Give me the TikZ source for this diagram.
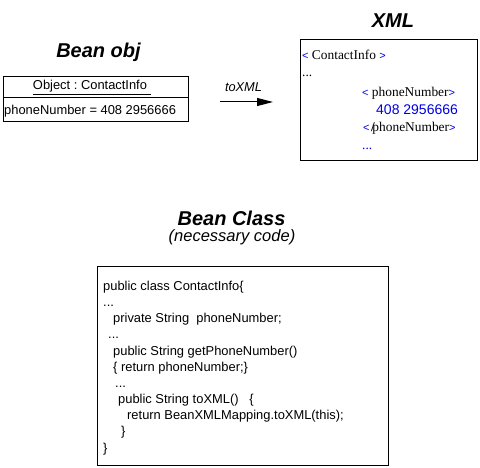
\documentclass[tikz,border=0pt]{standalone}
\usepackage{fontspec}
\setmainfont{Liberation Sans}
\newfontfamily\xmlfont{Liberation Serif}
\newfontfamily\tagfont{Liberation Sans}
\usetikzlibrary{positioning,arrows.meta}
\definecolor{tagblue}{RGB}{0,0,225}
\frenchspacing

\newcommand\tdots{...}
\newcommand\xlt{\textcolor{tagblue}{\fontsize{11}{13}\selectfont\tagfont<}}
\newcommand\xgt{\textcolor{tagblue}{\fontsize{11}{13}\selectfont\tagfont>}}

\tikzset{
	title/.style={font=\fontsize{20}{23}\selectfont\bfseries\itshape},
	code/.style={anchor=base west,inner sep=0pt,font=\fontsize{12.9}{15}\selectfont},
	tag/.style={anchor=base west,inner sep=0pt,font=\fontsize{13.4}{15}\selectfont\xmlfont},
	box/.style={draw,line width=1pt,inner sep=0pt}
}

\begin{document}
\begin{tikzpicture}[x=1pt,y=-1pt]
\useasboundingbox (0,0) rectangle (480,468);

% titles
\node[title] (objtitle) at (98.5,52) {Bean obj};
\node[title] (xmltitle) at (393,21) {XML};
\node[title] (classtitle) at (231.5,218) {Bean Class};
\node[font=\fontsize{16.5}{18}\selectfont\itshape] (classnote) at (232,237) {(necessary code)};

% bean object
\node[box,minimum width=185pt,minimum height=21pt] (objhead) at (95.5,87.5) {};
\node[box,minimum width=185pt,minimum height=24pt] (objbody) at (95.5,110) {};
\node[code,anchor=base] (objname) at (92,90) {\underline{Object : ContactInfo\hspace{4pt}}};
\node[code] (objfield) at (4,114.5) {phoneNumber = 408 2956666};

% toXML arrow
\coordinate (arrowtail) at (220,102);
\coordinate (arrowtip) at (273,102);
\draw[-{Triangle[length=16pt,width=8pt]},line width=1pt] (arrowtail)--(arrowtip);
\node[font=\fontsize{12.8}{15}\selectfont\itshape] (arrowlabel) at (243.5,87) {toXML};

% xml document
\node[box,minimum width=177pt,minimum height=121pt] (xmlbox) at (388.5,100.5) {};
\node[tag] (xmlopen) at (302,59.5) {\xlt\ ContactInfo \xgt};
\node[tag] (xmldots) at (302,77) {\tdots};
\node[tag] (phoneopen) at (362,97) {\xlt\ phoneNumber\xgt};
\node[code,font=\fontsize{14}{16}\selectfont,text=tagblue] (phonevalue) at (376,115) {408 2956666};
\node[tag] (phoneclose) at (363,132) {\xlt\kern1.5pt\textbf{/}\kern-2.5pt phoneNumber\xgt};
\node[tag,text=tagblue] (morexml) at (362,150) {\tdots};

% bean class code
\node[box,minimum width=291pt,minimum height=198pt] (codebox) at (242.5,366) {};
\foreach \n/\dx/\txt in {0/103/public class ContactInfo\{, 1/103/\tdots,
	2/113/private String\ \ phoneNumber;, 3/108/\tdots,
	4/113/public String getPhoneNumber(), 5/113/\{ return phoneNumber;\},
	6/115/\tdots, 7/118/public String toXML()\ \ \ \{,
	8/127/return BeanXMLMapping.toXML(this);, 9/121/\}, 10/103/\}}
	\node[code] (code\n) at (\dx,290.5+16.15*\n) {\txt};

\end{tikzpicture}
\end{document}
